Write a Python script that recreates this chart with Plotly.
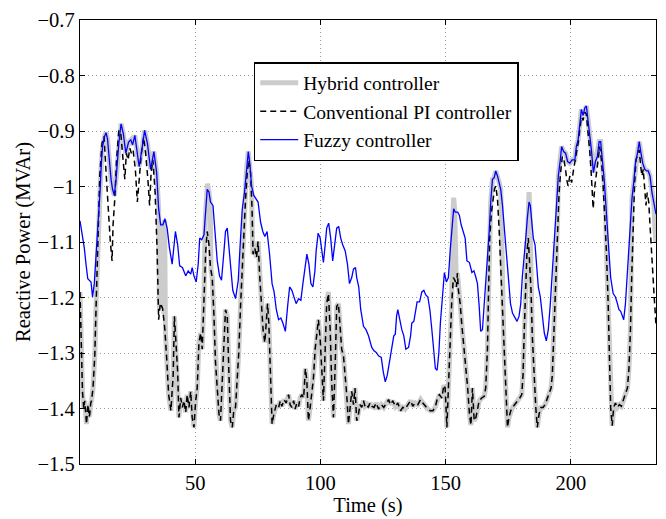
import plotly.graph_objects as go

# ---------------- data ----------------
t_fuzzy = [4.0, 5.0, 5.7, 6.4, 7.1, 8.4, 9.0, 9.7, 10.4, 11.0, 11.5, 12.0, 12.5, 13.0, 13.8, 14.4, 15.0, 15.4,
           16.4, 17.0, 17.7, 18.4, 19.0, 19.5, 20.4, 21.3, 22.3, 23.4, 24.3, 25.0, 25.9, 26.5, 27.6, 28.6,
           29.8, 30.9, 32.2, 33.5, 34.6, 35.4, 36.2, 37.1, 37.9, 38.8, 39.7, 40.8, 41.5, 42.1, 43.0, 43.8,
           44.9, 46.2, 47.2, 48.2, 48.8, 49.5, 50.4, 51.2, 51.8, 52.6, 53.5, 54.2, 54.8, 55.5, 56.1, 57.1,
           57.9, 58.8, 59.7, 60.5, 61.5, 62.1, 62.8, 63.4, 64.1, 65.0, 66.1, 67.2, 68.1, 68.8, 69.7, 70.4,
           71.2, 71.8, 72.5, 73.4, 74.3, 75.1, 76.1, 77.0, 77.8, 78.7, 79.7, 80.7, 81.5, 82.4, 83.3, 84.2,
           85.0, 86.0, 86.9, 87.7, 88.6, 89.5, 90.3, 91.3, 92.2, 93.0, 93.9, 94.6, 95.4, 96.2, 97.0, 97.8,
           98.3, 99.1, 99.9, 100.6, 101.2, 101.9, 102.5, 103.3, 104.1, 104.9, 105.7, 106.5, 107.3, 108.1,
           108.9, 109.9, 110.8, 111.6, 112.5, 113.2, 114.0, 114.5, 115.3, 116.1, 117.2, 118.2, 119.2, 120.5,
           121.4, 122.3, 123.2, 124.3, 125.1, 125.9, 126.7, 127.6, 128.5, 129.3, 129.9, 130.4, 130.9, 131.6,
           132.5, 133.3, 134.1, 135.2, 136.0, 136.5, 137.3, 138.1, 138.6, 139.6, 140.5, 141.3, 142.0, 142.9,
           143.7, 144.5, 145.3, 145.9, 146.6, 147.3, 147.9, 148.7, 149.5, 150.3, 151.1, 151.9, 152.7, 153.2,
           153.8, 154.8, 155.5, 156.2, 157.0, 157.8, 158.5, 159.5, 160.5, 161.3, 162.1, 162.7, 163.4, 164.0,
           164.7, 165.4, 166.0, 166.7, 167.4, 168.0, 168.7, 169.4, 170.0, 170.7, 171.4, 172.0, 172.7, 173.3,
           174.0, 175.0, 175.9, 176.7, 177.6, 178.5, 179.3, 180.0, 180.6, 181.3, 182.0, 182.6, 183.3, 183.8,
           184.4, 185.0, 185.7, 186.4, 187.0, 187.8, 188.6, 189.4, 190.2, 191.0, 191.8, 192.6, 193.4, 194.2,
           195.0, 195.8, 196.3, 197.1, 197.9, 198.7, 199.6, 200.5, 201.6, 202.2, 202.9, 203.6, 204.2, 204.9,
           205.6, 206.2, 206.9, 207.6, 208.2, 209.0, 209.8, 210.6, 211.3, 211.9, 212.6, 213.3, 213.9, 214.6,
           215.3, 215.9, 216.9, 217.8, 218.6, 219.2, 219.9, 220.6, 221.1, 221.8, 222.4, 223.1, 223.8, 224.4,
           225.1, 225.8, 226.6, 227.3, 228.0, 228.7, 229.5, 230.3, 230.9, 231.6, 232.4, 233.2, 234.0]
fuzzy = [-1.062, -1.09, -1.11, -1.14, -1.166, -1.172, -1.199, -1.175, -1.13, -1.093, -1.05, -1.01, -0.96, -0.928,
         -0.91, -0.903, -0.915, -0.94, -0.987, -1.005, -1.016, -0.987, -0.95, -0.922, -0.887, -0.905, -0.94,
         -0.92, -0.916, -0.925, -0.908, -0.928, -0.964, -0.937, -0.899, -0.922, -0.969, -0.937, -0.975, -1.04,
         -1.069, -1.069, -1.058, -1.075, -1.11, -1.14, -1.10, -1.081, -1.105, -1.143, -1.146, -1.161, -1.152,
         -1.158, -1.146, -1.161, -1.172, -1.14, -1.093, -1.096, -1.087, -1.046, -1.005, -1.01, -1.028, -1.034,
         -1.081, -1.134, -1.161, -1.169, -1.116, -1.081, -1.075, -1.105, -1.146, -1.187, -1.202, -1.169, -1.093,
         -1.04, -1.01, -0.975, -0.937, -0.958, -0.999, -1.016, -1.022, -1.028, -1.064, -1.081, -1.09, -1.081,
         -1.122, -1.175, -1.19, -1.222, -1.24, -1.237, -1.246, -1.261, -1.216, -1.181, -1.187, -1.199, -1.211,
         -1.202, -1.205, -1.175, -1.146, -1.122, -1.14, -1.175, -1.181, -1.152, -1.116, -1.084, -1.093, -1.122,
         -1.137, -1.105, -1.075, -1.066, -1.093, -1.134, -1.105, -1.075, -1.072, -1.093, -1.105, -1.116, -1.14,
         -1.175, -1.164, -1.149, -1.146, -1.164, -1.181, -1.222, -1.252, -1.258, -1.269, -1.29, -1.296, -1.299,
         -1.305, -1.308, -1.334, -1.352, -1.34, -1.316, -1.287, -1.269, -1.266, -1.234, -1.222, -1.24, -1.258,
         -1.269, -1.293, -1.29, -1.269, -1.246, -1.243, -1.222, -1.208, -1.208, -1.19, -1.187, -1.195, -1.199,
         -1.222, -1.258, -1.299, -1.328, -1.331, -1.299, -1.246, -1.199, -1.155, -1.172, -1.164, -1.111, -1.058,
         -1.04, -1.046, -1.046, -1.052, -1.069, -1.081, -1.093, -1.134, -1.137, -1.155, -1.152, -1.164, -1.175,
         -1.216, -1.261, -1.258, -1.216, -1.175, -1.14, -1.081, -1.028, -0.987, -0.984, -0.972, -0.981, -0.993,
         -1.005, -1.034, -1.069, -1.116, -1.169, -1.211, -1.228, -1.237, -1.243, -1.234, -1.211, -1.164, -1.134,
         -1.093, -1.058, -1.028, -1.034, -1.069, -1.093, -1.105, -1.152, -1.181, -1.199, -1.234, -1.264, -1.278,
         -1.258, -1.211, -1.152, -1.081, -1.034, -0.981, -0.952, -0.928, -0.937, -0.94, -0.955, -0.958, -0.952,
         -0.952, -0.928, -0.916, -0.887, -0.861, -0.872, -0.858, -0.855, -0.881, -0.905, -0.934, -0.975, -0.955,
         -0.946, -0.919, -0.919, -0.952, -0.987, -1.028, -1.081, -1.128, -1.164, -1.193, -1.199, -1.211, -1.222,
         -1.225, -1.234, -1.24, -1.211, -1.164, -1.128, -1.075, -1.022, -0.993, -0.958, -0.94, -0.919, -0.94,
         -0.958, -0.969, -0.972, -0.972, -0.981, -1.011, -1.034, -1.05]

t_pi = [4.0, 4.5, 5.0, 5.5, 5.9, 6.3, 6.6, 7.0, 7.3, 7.6, 7.9, 8.3, 8.6, 9.2, 9.9, 10.6, 11.2, 11.9, 12.8, 13.6,
        14.5, 15.5, 16.1, 16.8, 17.2, 17.9, 18.6, 19.5, 20.3, 21.2, 21.9, 22.5, 23.2, 23.9, 24.5, 25.2, 26.1,
        26.9, 27.6, 28.5, 29.4, 30.2, 31.1, 31.8, 32.4, 33.1, 34.0, 34.8, 35.4, 36.1, 37.0, 37.9, 38.7, 39.4,
        40.3, 41.2, 41.7, 42.5, 43.0, 43.5, 44.2, 44.9, 45.5, 46.2, 46.8, 47.5, 48.2, 48.8, 49.5, 50.2, 50.8,
        51.5, 52.2, 52.8, 53.5, 54.2, 54.8, 55.5, 56.1, 56.8, 57.5, 58.1, 58.8, 59.5, 60.1, 60.8, 61.5, 62.1,
        62.8, 63.4, 64.1, 64.8, 65.4, 66.1, 66.8, 67.4, 68.1, 68.8, 69.4, 70.1, 70.8, 71.4, 72.1, 72.7, 73.1,
        73.8, 74.5, 75.1, 75.8, 76.5, 77.1, 77.8, 78.3, 78.9, 79.4, 80.0, 80.7, 81.4, 82.0, 82.4, 83.3, 84.0,
        84.6, 85.5, 86.3, 87.3, 87.9, 88.6, 89.3, 89.9, 90.6, 91.3, 91.9, 92.6, 93.3, 94.0, 94.6, 95.2, 95.9,
        96.6, 97.2, 97.9, 98.6, 99.2, 99.9, 100.6, 101.2, 101.9, 102.5, 103.2, 103.9, 104.5, 105.2, 105.9,
        106.5, 107.2, 107.9, 108.5, 109.2, 109.9, 110.5, 111.2, 111.8, 112.5, 113.2, 113.8, 114.5, 115.2,
        115.8, 116.5, 117.2, 117.8, 118.5, 119.1, 119.8, 120.5, 121.4, 122.3, 123.2, 124.3, 125.3, 126.3,
        127.2, 128.0, 128.9, 129.9, 130.9, 132.0, 132.9, 133.8, 134.9, 136.0, 136.9, 137.8, 138.9, 140.0,
        140.9, 141.8, 142.9, 143.9, 144.9, 145.8, 146.6, 147.5, 148.5, 149.3, 149.8, 150.5, 151.1, 151.8,
        152.4, 153.1, 153.8, 154.3, 154.7, 155.1, 155.8, 156.4, 157.2, 157.9, 158.8, 159.5, 160.1, 160.7,
        161.4, 162.1, 162.7, 163.4, 164.4, 165.4, 166.0, 166.7, 167.1, 167.6, 168.3, 169.0, 169.5, 170.0,
        170.7, 171.4, 172.0, 172.7, 173.3, 174.0, 174.7, 175.3, 176.0, 176.7, 177.6, 178.5, 179.6, 180.4,
        180.9, 181.4, 182.0, 182.5, 183.0, 183.6, 184.1, 184.6, 185.3, 186.0, 186.6, 187.3, 188.1, 188.9,
        189.7, 190.5, 191.3, 192.1, 192.6, 193.1, 193.7, 194.2, 194.7, 195.3, 195.9, 196.6, 197.2, 197.9,
        198.3, 198.9, 199.6, 200.3, 200.9, 201.6, 202.2, 202.9, 203.6, 204.2, 204.9, 205.6, 206.2, 206.9,
        207.6, 208.2, 208.9, 209.6, 210.2, 210.9, 211.5, 212.2, 212.9, 213.5, 214.2, 214.9, 215.4, 215.9,
        216.5, 217.1, 217.8, 218.6, 219.4, 220.2, 221.0, 221.8, 222.6, 223.2, 223.8, 224.3, 224.8, 225.4,
        226.0, 226.8, 227.3, 227.9, 228.4, 228.9, 229.5, 230.0, 230.5, 231.1, 231.6, 232.1, 232.8, 233.2,
        234.0]
pi = [-1.19, -1.30, -1.37, -1.40, -1.386, -1.41, -1.428, -1.40, -1.393, -1.415, -1.41, -1.39, -1.386, -1.363,
      -1.305, -1.187, -1.07, -0.98, -0.922, -0.91, -0.981, -1.058, -1.099, -1.134, -1.069, -1.022, -0.952,
      -0.899, -0.905, -0.952, -0.987, -0.94, -0.952, -0.931, -0.94, -0.934, -0.969, -1.028, -0.987, -0.94,
      -0.911, -0.94, -0.987, -1.034, -0.975, -0.952, -1.011, -1.116, -1.24, -1.21, -1.22, -1.258, -1.316,
      -1.375, -1.404, -1.34, -1.234, -1.305, -1.334, -1.416, -1.381, -1.398, -1.386, -1.407, -1.375, -1.398,
      -1.369, -1.416, -1.434, -1.386, -1.363, -1.281, -1.264, -1.293, -1.199, -1.116, -1.081, -1.105, -1.146,
      -1.164, -1.234, -1.316, -1.363, -1.41, -1.422, -1.363, -1.281, -1.222, -1.234, -1.328, -1.422, -1.434,
      -1.404, -1.398, -1.352, -1.299, -1.216, -1.14, -1.081, -1.022, -0.975, -0.952, -0.975, -1.04, -1.122,
      -1.111, -1.128, -1.099, -1.164, -1.211, -1.258, -1.281, -1.246, -1.211, -1.246, -1.328, -1.428, -1.41,
      -1.398, -1.393, -1.398, -1.386, -1.396, -1.384, -1.39, -1.375, -1.393, -1.398, -1.386, -1.401, -1.39,
      -1.396, -1.381, -1.375, -1.381, -1.328, -1.352, -1.422, -1.398, -1.363, -1.346, -1.293, -1.258, -1.24,
      -1.275, -1.352, -1.386, -1.293, -1.211, -1.193, -1.258, -1.352, -1.416, -1.322, -1.216, -1.211, -1.258,
      -1.293, -1.305, -1.34, -1.375, -1.428, -1.398, -1.369, -1.393, -1.363, -1.422, -1.41, -1.393, -1.398,
      -1.386, -1.396, -1.393, -1.398, -1.39, -1.396, -1.398, -1.39, -1.401, -1.393, -1.398, -1.39, -1.384,
      -1.393, -1.386, -1.396, -1.39, -1.404, -1.398, -1.401, -1.393, -1.386, -1.396, -1.39, -1.393, -1.384,
      -1.39, -1.396, -1.401, -1.404, -1.404, -1.398, -1.384, -1.375, -1.381, -1.358, -1.363, -1.434, -1.363,
      -1.293, -1.211, -1.164, -1.17, -1.181, -1.156, -1.187, -1.211, -1.246, -1.281, -1.316, -1.363, -1.41,
      -1.43, -1.363, -1.422, -1.416, -1.398, -1.386, -1.381, -1.378, -1.363, -1.293, -1.199, -1.093, -1.046,
      -1.022, -1.005, -0.999, -1.022, -1.081, -1.14, -1.211, -1.293, -1.363, -1.434, -1.416, -1.404, -1.398,
      -1.393, -1.386, -1.381, -1.375, -1.34, -1.258, -1.175, -1.116, -1.093, -1.14, -1.187, -1.269, -1.346,
      -1.398, -1.434, -1.41, -1.398, -1.398, -1.393, -1.384, -1.375, -1.363, -1.34, -1.281, -1.199, -1.116,
      -1.058, -1.011, -0.975, -0.946, -0.952, -0.969, -0.987, -0.999, -0.981, -0.993, -0.975, -0.952, -0.94,
      -0.922, -0.893, -0.875, -0.881, -0.866, -0.87, -0.899, -0.94, -0.981, -1.04, -0.999, -0.981, -0.952,
      -0.928, -0.952, -0.999, -1.046, -1.116, -1.211, -1.305, -1.398, -1.431, -1.398, -1.39, -1.398, -1.393,
      -1.396, -1.384, -1.375, -1.363, -1.328, -1.258, -1.164, -1.069, -0.999, -0.952, -0.94, -0.934, -0.964,
      -0.981, -0.969, -1.011, -1.034, -1.011, -1.028, -1.069, -1.116, -1.164, -1.193, -1.25]

t_hybrid = [4.0, 4.5, 5.0, 5.5, 5.9, 6.3, 6.6, 7.0, 7.3, 7.6, 7.9, 8.3, 8.6, 9.2, 9.9, 10.6, 11.2,
            11.5, 12.0, 12.5, 13.0, 13.8, 14.4, 15.0, 15.4, 16.4, 17.0, 17.7, 18.4, 19.0, 19.5, 20.4, 21.3,
            22.3, 23.4, 24.3, 25.0, 25.9, 26.5, 27.6, 28.6, 29.8, 30.9, 32.2, 33.5, 34.6, 35.4,
            35.7, 36.0, 36.3, 36.6, 36.9, 37.2, 37.5, 37.8, 38.1,
            38.7, 39.4, 40.3, 41.2, 41.7, 42.5, 43.0, 43.5, 44.2, 44.9, 45.5, 46.2, 46.8, 47.5, 48.2, 48.8,
            49.5, 50.2, 50.8, 51.5, 52.2, 52.8, 53.5,
            54.0, 54.5, 54.9, 55.5, 56.0, 56.3,
            56.8, 57.5, 58.1, 58.8, 59.5, 60.1, 60.8, 61.5, 62.1, 62.8, 63.4, 64.1, 64.8, 65.4, 66.1, 66.8,
            67.4, 68.1, 68.8, 69.4,
            69.8, 70.4, 71.2, 71.8, 72.5, 72.8,
            73.1, 73.8, 74.5, 75.1, 75.8, 76.5, 77.1, 77.8, 78.3, 78.9, 79.4, 80.0, 80.7, 81.4, 82.0, 82.4,
            83.3, 84.0, 84.6, 85.5, 86.3, 87.3, 87.9, 88.6, 89.3, 89.9, 90.6, 91.3, 91.9, 92.6, 93.3, 94.0,
            94.6, 95.2, 95.9, 96.6, 97.2, 97.9, 98.6, 99.2, 99.9, 100.6, 101.2, 101.9, 102.5, 103.2, 103.9,
            104.5, 105.2, 105.9, 106.5, 107.2, 107.9, 108.5, 109.2, 109.9, 110.5, 111.2, 111.8, 112.5, 113.2,
            113.8, 114.5, 115.2, 115.8, 116.5, 117.2, 117.8, 118.5, 119.1, 119.8, 120.5, 121.4, 122.3, 123.2,
            124.3, 125.3, 126.3, 127.2, 128.0, 128.9, 129.9, 130.9, 132.0, 132.9, 133.8, 134.9, 136.0, 136.9,
            137.8, 138.9, 140.0, 140.9, 141.8, 142.9, 143.9, 144.9, 145.8, 146.6, 147.5, 148.5, 149.3, 149.8,
            150.5, 151.1, 151.8, 152.4,
            152.8, 153.2, 153.6, 153.9,
            154.3, 154.7, 155.1, 155.8, 156.4, 157.2, 157.9, 158.8, 159.5, 160.1, 160.7, 161.4, 162.1, 162.7,
            163.4, 164.4, 165.4, 166.0, 166.7, 167.1,
            167.6, 168.0, 168.7, 169.4, 170.0, 170.7, 171.4, 172.0, 172.4,
            172.7, 173.3, 174.0, 174.7, 175.3, 176.0, 176.7, 177.6, 178.5, 179.6, 180.4, 180.9, 181.4, 182.0,
            182.5, 183.0, 183.3, 183.6, 184.0,
            184.6, 185.3, 186.0, 186.6, 187.3, 188.1, 188.9, 189.7, 190.5, 191.3, 192.1, 192.6, 193.1, 193.7,
            194.2, 194.7,
            195.0, 195.8, 196.3, 197.1, 197.9, 198.7, 199.6, 200.5, 201.6, 202.2, 202.9, 203.6, 204.2, 204.9,
            205.6, 206.2, 206.9, 207.6, 208.2, 209.0, 209.8, 210.6, 211.3, 211.9, 212.6, 213.3, 213.9,
            214.2, 214.9, 215.4, 215.9, 216.5, 217.1, 217.8, 218.6, 219.4, 220.2, 221.0, 221.8, 222.6, 223.2,
            223.8, 224.4,
            225.1, 225.8, 226.6, 227.3, 228.0, 228.7, 229.5, 230.3, 230.9, 231.6, 232.4, 233.2, 233.6, 234.0]
hybrid = [-1.19, -1.30, -1.37, -1.40, -1.386, -1.41, -1.428, -1.40, -1.393, -1.415, -1.41, -1.39, -1.386, -1.363,
          -1.305, -1.187, -1.07,
          -1.05, -1.01, -0.96, -0.928, -0.91, -0.903, -0.915, -0.94, -0.987, -1.005, -1.016, -0.987, -0.95,
          -0.922, -0.887, -0.905, -0.94, -0.92, -0.916, -0.925, -0.908, -0.928, -0.964, -0.937, -0.899, -0.922,
          -0.969, -0.937, -0.975, -1.04,
          -1.22, -1.07, -1.21, -1.07, -1.22, -1.065, -1.23, -1.06, -1.26,
          -1.316, -1.375, -1.404, -1.34, -1.234, -1.305, -1.334, -1.416, -1.381, -1.398, -1.386, -1.407, -1.375,
          -1.398, -1.369, -1.416, -1.434, -1.386, -1.363, -1.281, -1.264, -1.293, -1.199,
          -1.06, -1.0, -0.995, -1.01, -1.03, -1.15,
          -1.164, -1.234, -1.316, -1.363, -1.41, -1.422, -1.363, -1.281, -1.222, -1.234, -1.328, -1.422, -1.434,
          -1.404, -1.398, -1.352, -1.299, -1.216, -1.14, -1.081,
          -1.01, -0.975, -0.937, -0.958, -0.999, -1.08,
          -1.122, -1.111, -1.128, -1.099, -1.164, -1.211, -1.258, -1.281, -1.246, -1.211, -1.246, -1.328, -1.428,
          -1.41, -1.398, -1.393, -1.398, -1.386, -1.396, -1.384, -1.39, -1.375, -1.393, -1.398, -1.386, -1.401,
          -1.39, -1.396, -1.381, -1.375, -1.381, -1.328, -1.352, -1.422, -1.398, -1.363, -1.346, -1.293, -1.258,
          -1.24, -1.275, -1.352, -1.386, -1.293, -1.211, -1.19, -1.258, -1.352, -1.416, -1.322, -1.216, -1.211,
          -1.258, -1.293, -1.305, -1.34, -1.375, -1.428, -1.398, -1.369, -1.393, -1.363, -1.422, -1.41, -1.393,
          -1.398, -1.386, -1.396, -1.393, -1.398, -1.39, -1.396, -1.398, -1.39, -1.401, -1.393, -1.398, -1.39,
          -1.384, -1.393, -1.386, -1.396, -1.39, -1.404, -1.398, -1.401, -1.393, -1.386, -1.396, -1.39, -1.393,
          -1.384, -1.39, -1.396, -1.401, -1.404, -1.404, -1.398, -1.384, -1.375, -1.381, -1.358, -1.363, -1.434,
          -1.363, -1.293, -1.211,
          -1.06, -1.02, -1.04, -1.17,
          -1.181, -1.156, -1.187, -1.211, -1.246, -1.281, -1.316, -1.363, -1.41, -1.43, -1.363, -1.422, -1.416,
          -1.398, -1.386, -1.381, -1.378, -1.363, -1.293, -1.199,
          -1.09, -1.028, -0.987, -0.984, -0.972, -0.981, -0.993, -1.005, -1.1,
          -1.211, -1.293, -1.363, -1.434, -1.416, -1.404, -1.398, -1.393, -1.386, -1.381, -1.375, -1.34, -1.258,
          -1.175,
          -1.116, -1.02, -1.01, -1.04, -1.17,
          -1.269, -1.346, -1.398, -1.434, -1.41, -1.398, -1.398, -1.393, -1.384, -1.375, -1.363, -1.34, -1.281,
          -1.199, -1.116, -1.058,
          -0.981, -0.952, -0.928, -0.937, -0.94, -0.955, -0.958, -0.952, -0.952, -0.928, -0.916, -0.887, -0.861,
          -0.872, -0.858, -0.855, -0.881, -0.905, -0.934, -0.975, -0.955, -0.946, -0.919, -0.919, -0.952,
          -0.987, -1.028,
          -1.116, -1.211, -1.305, -1.398, -1.431, -1.398, -1.39, -1.398, -1.393, -1.396, -1.384, -1.375, -1.363,
          -1.328, -1.258, -1.022,
          -0.993, -0.958, -0.94, -0.919, -0.94, -0.958, -0.969, -0.972, -0.972, -0.981, -1.011, -1.034, -1.08,
          -1.1]

x_ticks = [50, 100, 150, 200]
x_tick_labels = ["50", "100", "150", "200"]
y_ticks = [-1.5, -1.4, -1.3, -1.2, -1.1, -1.0, -0.9, -0.8, -0.7]
y_tick_labels = ["\u22121.5", "\u22121.4", "\u22121.3", "\u22121.2", "\u22121.1", "\u22121",
                 "\u22120.9", "\u22120.8", "\u22120.7"]

# ---------------- figure ----------------
FONT = "Liberation Serif"

fig = go.Figure()
fig.add_trace(go.Scatter(x=t_hybrid, y=hybrid, mode="lines", name="Hybrid controller",
                         line=dict(color="#cccccc", width=5)))
fig.add_trace(go.Scatter(x=t_pi, y=pi, mode="lines", name="Conventional PI controller",
                         line=dict(color="black", width=1.5, dash="6px,4px")))
fig.add_trace(go.Scatter(x=t_fuzzy, y=fuzzy, mode="lines", name="Fuzzy controller",
                         line=dict(color="#0000ff", width=1.3)))

axis_common = dict(
    showline=True, linecolor="black", linewidth=1.3, mirror="ticks",
    ticks="inside", ticklen=5, tickwidth=1, tickcolor="black",
    showgrid=True, gridcolor="#9a9a9a", gridwidth=1, griddash="1px,3px",
    zeroline=False, tickfont=dict(family=FONT, size=20.5, color="black"),
)

fig.update_xaxes(range=[4, 234], tickvals=x_ticks, ticktext=x_tick_labels,
                 title=dict(text="Time (s)", font=dict(family=FONT, size=20.5, color="black"), standoff=2),
                 **axis_common)
fig.update_yaxes(range=[-1.5, -0.7], tickvals=y_ticks, ticktext=y_tick_labels,
                 title=dict(text="Reactive Power (MVAr)", font=dict(family=FONT, size=20.5, color="black"),
                            standoff=1),
                 **axis_common)

fig.update_layout(
    width=666, height=519,
    margin=dict(l=80, r=9, t=14, b=50),
    paper_bgcolor="white", plot_bgcolor="white",
    font=dict(family=FONT, size=20, color="black"),
    showlegend=True,
    legend=dict(x=0.3016, y=0.905, xanchor="left", yanchor="top",
                bgcolor="white", bordercolor="black", borderwidth=1.5,
                font=dict(family=FONT, size=19.5, color="black"),
                traceorder="normal", itemwidth=38),
    hovermode=False,
)

fig.write_html("out.html", config={"displayModeBar": False})
